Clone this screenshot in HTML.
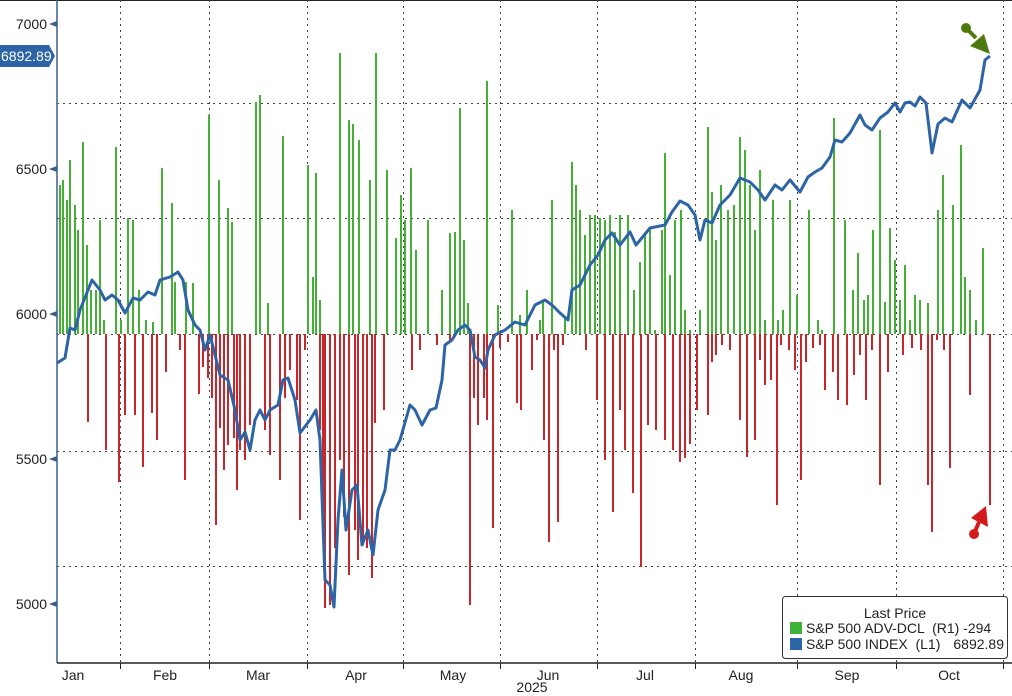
<!DOCTYPE html>
<html><head><meta charset="utf-8">
<style>
html,body{margin:0;padding:0;background:#fff;}
svg{display:block;font-family:"Liberation Sans",sans-serif;}
</style></head>
<body>
<svg id="c" width="1012" height="696" viewBox="0 0 1012 696" xmlns="http://www.w3.org/2000/svg">
<rect width="1012" height="696" fill="#fff"/>
<line x1="0" y1="0.5" x2="1012" y2="0.5" stroke="#222" stroke-width="1"/>
<g id="grid" stroke="#444" stroke-width="1" stroke-dasharray="2,4"></g>
<g id="bars"></g>
<path id="line" fill="none" stroke="#2d64a6" stroke-width="3" stroke-linejoin="round"/>
<line x1="57" y1="0" x2="57" y2="663" stroke="#3a5f8a" stroke-width="1.5"/>
<line x1="57" y1="663" x2="1012" y2="663" stroke="#222" stroke-width="1.5"/>
<g id="yl" font-size="14" fill="#222" text-anchor="end"></g>
<g id="xl" font-size="14" fill="#222" text-anchor="middle"></g>
<text x="532" y="692" font-size="14" fill="#222" text-anchor="middle">2025</text>
<path d="M0,45 H49 L55,56 L49,67 H0 Z" fill="#2d64a6"/>
<text x="1" y="61" font-size="14" fill="#fff">6892.89</text>
<circle cx="966" cy="28" r="5" fill="#4c7a10"/>
<line x1="966" y1="28" x2="976" y2="38" stroke="#4c7a10" stroke-width="4"/>
<polygon points="970,46 984,34 990,54" fill="#4c7a10"/>
<circle cx="974" cy="534" r="5" fill="#d41a1a"/>
<line x1="974" y1="534" x2="979" y2="522" stroke="#d41a1a" stroke-width="4"/>
<polygon points="971,518 986,506 988,527" fill="#d41a1a"/>
<rect x="782.5" y="596.5" width="225" height="62" rx="3" fill="#fff" stroke="#333"/>
<text x="895" y="618" font-size="14" fill="#222" text-anchor="middle">Last Price</text>
<rect x="790" y="622" width="12" height="12" fill="#3cb43c"/>
<rect x="790" y="638" width="12" height="12" fill="#2d64a6"/>
<text x="806" y="633" font-size="14" fill="#222" xml:space="preserve">S&amp;P 500 ADV-DCL  (R1) -294</text>
<text x="806" y="649" font-size="14" fill="#222" xml:space="preserve">S&amp;P 500 INDEX  (L1)</text>
<text x="1004" y="649" font-size="14" fill="#222" text-anchor="end">6892.89</text>
</svg>
<script>
var NS="http://www.w3.org/2000/svg";
function el(p,t,a){var e=document.createElementNS(NS,t);for(var k in a)e.setAttribute(k,a[k]);p.appendChild(e);return e;}
var g=document.getElementById('grid');
[103,218,334,451,566].forEach(function(y){el(g,'line',{x1:57,y1:y+.5,x2:1012,y2:y+.5});});
var vx=[120,209,307,403,500,597,695,797,896,1003];
vx.forEach(function(x){el(g,'line',{x1:x+.5,y1:0,x2:x+.5,y2:663});
 el(document.getElementById('c'),'line',{x1:x+.5,y1:663,x2:x+.5,y2:669,stroke:'#222','stroke-width':1});});
var green=[[60,185],[63,180],[67,200],[70,160],[75,205],[78,230],[83,142],[87,245],[91,290],[96,290],[100,220],[104,320],[116,147],[121,320],[128,218],[133,220],[139,290],[146,320],[153,322],[162,168],[172,203],[175,282],[186,282],[193,283],[209,115],[219,180],[228,208],[232,222],[256,102],[260,95],[268,303],[283,136],[308,165],[313,277],[316,173],[320,300],[340,53],[349,120],[353,124],[359,140],[370,180],[376,53],[387,170],[396,238],[401,195],[405,220],[411,168],[416,250],[428,220],[442,290],[450,233],[455,232],[460,108],[464,240],[468,303],[487,81],[498,305],[512,210],[520,315],[527,290],[540,320],[543,302],[552,200],[565,318],[572,162],[576,185],[580,210],[585,235],[590,215],[595,215],[600,218],[605,220],[610,215],[615,232],[620,215],[628,215],[634,290],[640,262],[645,235],[650,228],[655,330],[662,230],[665,153],[670,275],[675,220],[681,210],[685,310],[690,330],[700,310],[708,127],[712,192],[716,240],[721,185],[728,210],[734,205],[740,137],[745,150],[750,185],[755,230],[760,170],[765,320],[773,200],[778,320],[783,310],[790,200],[797,295],[809,210],[818,320],[822,330],[834,118],[845,220],[853,290],[858,253],[864,300],[868,295],[873,230],[880,130],[885,302],[890,228],[895,260],[900,300],[905,265],[910,320],[915,295],[920,300],[928,303],[938,210],[943,175],[953,205],[961,145],[965,277],[970,290],[976,320],[983,248]];
var red=[[88,422],[106,450],[119,482],[125,415],[135,415],[143,467],[152,413],[157,440],[166,372],[180,350],[185,480],[199,394],[203,367],[208,378],[212,398],[216,525],[220,428],[224,470],[228,445],[234,438],[237,490],[240,450],[245,460],[250,425],[265,430],[270,455],[280,480],[285,398],[290,370],[297,400],[300,520],[305,350],[320,430],[323,525],[325,608],[330,605],[335,548],[340,460],[344,517],[349,575],[355,530],[358,560],[363,545],[367,548],[372,578],[375,423],[384,410],[412,370],[420,350],[437,345],[450,340],[470,605],[474,398],[478,425],[484,398],[487,420],[493,528],[500,348],[508,342],[517,403],[521,410],[532,370],[537,340],[544,440],[549,542],[554,350],[558,522],[563,345],[586,350],[597,400],[605,460],[613,512],[620,410],[625,450],[633,493],[641,567],[648,425],[656,430],[665,440],[673,450],[680,462],[685,458],[690,444],[697,410],[708,415],[712,362],[716,355],[722,345],[730,350],[740,420],[747,457],[755,440],[760,360],[765,385],[771,380],[777,505],[781,345],[789,350],[795,370],[801,480],[806,362],[813,348],[820,345],[825,390],[833,372],[838,400],[847,405],[854,375],[860,355],[866,400],[872,350],[880,485],[888,372],[903,355],[912,348],[921,350],[928,485],[932,532],[937,340],[944,350],[950,468],[970,395],[990,505]];
var b=document.getElementById('bars');
green.forEach(function(p){el(b,'rect',{x:p[0]-1,y:p[1],width:2,height:334-p[1],fill:'#44b035'});});
red.forEach(function(p){el(b,'rect',{x:p[0]-1,y:334,width:2,height:p[1]-334,fill:'#c8262b'});});
var pts=[[57,363],[65,358],[70,328],[75,330],[80,310],[92,280],[100,290],[105,300],[112,295],[118,300],[125,313],[133,298],[140,300],[148,292],[155,295],[160,280],[170,277],[178,272],[183,280],[188,310],[195,325],[200,330],[205,350],[210,335],[215,355],[220,375],[228,380],[235,410],[240,440],[245,432],[250,450],[255,420],[260,410],[265,420],[270,410],[278,405],[283,380],[288,378],[295,400],[300,433],[310,420],[316,410],[320,440],[325,580],[330,585],[334,607],[338,520],[342,470],[346,530],[352,490],[357,485],[362,545],[368,530],[373,555],[378,510],[385,490],[390,450],[395,450],[400,440],[410,405],[415,410],[422,425],[430,410],[436,408],[442,380],[445,345],[452,340],[458,330],[465,325],[470,330],[475,357],[480,360],[485,368],[488,350],[495,335],[505,330],[515,322],[525,325],[535,305],[545,300],[552,305],[560,313],[568,320],[572,290],[580,285],[590,265],[598,255],[605,240],[612,233],[620,245],[630,232],[636,245],[650,228],[665,225],[672,212],[680,201],[688,205],[695,215],[700,240],[705,220],[712,223],[720,205],[730,195],[740,178],[750,182],[758,190],[765,200],[775,185],[782,190],[790,180],[800,192],[808,177],[815,172],[822,168],[830,157],[835,140],[842,142],[850,133],[860,115],[865,125],[872,130],[880,118],[888,112],[895,103],[900,112],[905,103],[910,102],[915,106],[920,97],[926,103],[932,153],[938,124],[945,118],[952,122],[962,100],[970,108],[980,90],[985,60],[990,56]];
document.getElementById('line').setAttribute('d','M'+pts.map(function(p){return p.join(',');}).join(' L'));
var yl=document.getElementById('yl'),svg=document.getElementById('c');
[[7000,24],[6500,169],[6000,314],[5500,459],[5000,604]].forEach(function(p){
 var t=el(yl,'text',{x:47,y:p[1]+5});t.textContent=p[0];
 el(svg,'polygon',{points:(49)+','+p[1]+' 57,'+(p[1]-3)+' 57,'+(p[1]+3),fill:'#3a5f8a'});});
var xl=document.getElementById('xl');
[['Jan',73],['Feb',165],['Mar',258],['Apr',356],['May',453],['Jun',548],['Jul',645],['Aug',741],['Sep',847],['Oct',949]].forEach(function(m){var t=el(xl,'text',{x:m[1],y:680});t.textContent=m[0];});
</script>
</body></html>
